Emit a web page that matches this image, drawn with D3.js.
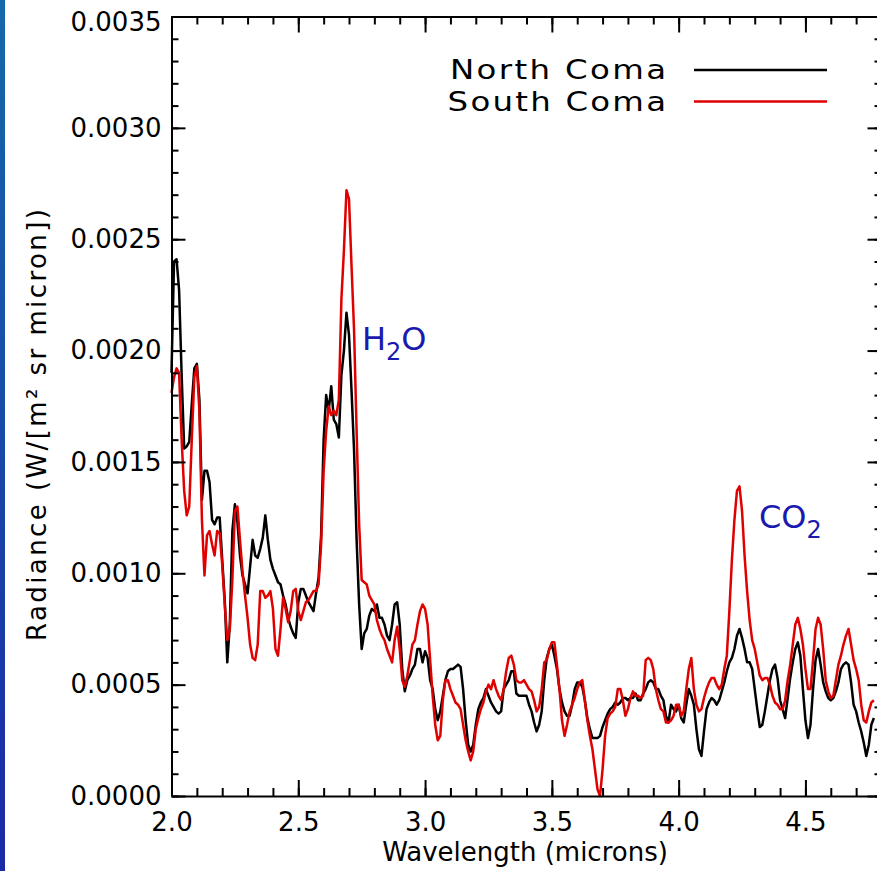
<!DOCTYPE html>
<html>
<head>
<meta charset="utf-8">
<script src="https://cdn.jsdelivr.net/npm/d3@7"></script>
<style>
  body { margin: 0; background: #fff; }
  svg text { font-family: 'DejaVu Sans', sans-serif; }
</style>
</head>
<body>
<div class="chartHolder"></div>
<script>
// wavelength grid (microns)
const wavelength = [
  2.00,2.01,2.02,2.03,2.04,2.05,2.06,2.07,2.08,2.09,
  2.10,2.11,2.12,2.13,2.14,2.15,2.16,2.17,2.18,2.19,
  2.20,2.21,2.22,2.23,2.24,2.25,2.26,2.27,2.28,2.29,
  2.30,2.31,2.32,2.33,2.34,2.35,2.36,2.37,2.38,2.39,
  2.40,2.41,2.42,2.43,2.44,2.45,2.46,2.47,2.48,2.49,
  2.50,2.51,2.52,2.53,2.54,2.55,2.56,2.57,2.58,2.59,
  2.60,2.61,2.62,2.63,2.64,2.65,2.66,2.67,2.68,2.69,
  2.70,2.71,2.72,2.73,2.74,2.75,2.76,2.77,2.78,2.79,
  2.80,2.81,2.82,2.83,2.84,2.85,2.86,2.87,2.88,2.89,
  2.90,2.91,2.92,2.93,2.94,2.95,2.96,2.97,2.98,2.99,
  3.00,3.01,3.02,3.03,3.04,3.05,3.06,3.07,3.08,3.09,
  3.10,3.11,3.12,3.13,3.14,3.15,3.16,3.17,3.18,3.19,
  3.20,3.21,3.22,3.23,3.24,3.25,3.26,3.27,3.28,3.29,
  3.30,3.31,3.32,3.33,3.34,3.35,3.36,3.37,3.38,3.39,
  3.40,3.41,3.42,3.43,3.44,3.45,3.46,3.47,3.48,3.49,
  3.50,3.51,3.52,3.53,3.54,3.55,3.56,3.57,3.58,3.59,
  3.60,3.61,3.62,3.63,3.64,3.65,3.66,3.67,3.68,3.69,
  3.70,3.71,3.72,3.73,3.74,3.75,3.76,3.77,3.78,3.79,
  3.80,3.81,3.82,3.83,3.84,3.85,3.86,3.87,3.88,3.89,
  3.90,3.91,3.92,3.93,3.94,3.95,3.96,3.97,3.98,3.99,
  4.00,4.01,4.02,4.03,4.04,4.05,4.06,4.07,4.08,4.09,
  4.10,4.11,4.12,4.13,4.14,4.15,4.16,4.17,4.18,4.19,
  4.20,4.21,4.22,4.23,4.24,4.25,4.26,4.27,4.28,4.29,
  4.30,4.31,4.32,4.33,4.34,4.35,4.36,4.37,4.38,4.39,
  4.40,4.41,4.42,4.43,4.44,4.45,4.46,4.47,4.48,4.49,
  4.50,4.51,4.52,4.53,4.54,4.55,4.56,4.57,4.58,4.59,
  4.60,4.61,4.62,4.63,4.64,4.65,4.66,4.67,4.68,4.69,
  4.70,4.71,4.72,4.73,4.74,4.75,4.76,4.77
]

// radiance in units of 1e-4 W/(m2 sr micron)
const northComa = [
  19.0,24.0,24.1,22.7,18.9,15.6,15.7,15.9,17.6,19.2,
  19.4,17.8,13.3,14.6,14.6,14.1,12.4,12.2,12.5,12.5,
  10.6,8.8,6.0,7.7,11.9,13.1,12.3,10.8,9.9,9.5,
  9.1,10.3,11.5,10.8,10.7,11.1,11.6,12.6,11.5,10.6,
  10.2,9.9,9.6,9.5,9.0,8.6,8.0,7.6,7.3,7.1,
  8.7,9.3,9.3,9.0,8.7,8.5,8.3,9.1,9.8,11.7,
  16.0,18.0,17.3,18.4,16.9,16.7,16.1,18.9,20.0,21.7,
  20.7,18.2,15.5,11.5,8.6,6.6,7.3,7.5,8.1,8.4,
  8.3,8.6,8.0,8.0,7.7,7.2,7.0,7.7,8.6,8.7,
  7.7,5.7,4.7,5.2,5.4,5.7,5.9,6.6,6.6,6.0,
  6.5,6.2,5.2,4.8,3.9,3.4,3.8,4.5,5.2,5.6,
  5.7,5.7,5.8,5.9,5.8,4.8,3.4,2.3,2.0,2.3,
  3.2,3.9,4.2,4.4,4.8,4.5,4.2,4.0,3.8,3.7,
  3.8,4.8,5.0,5.2,5.6,5.6,4.6,4.5,4.5,4.5,
  4.5,4.1,3.8,3.3,2.9,3.2,3.8,5.2,6.2,6.6,
  6.8,6.3,5.7,4.8,4.2,3.8,3.6,3.6,4.1,4.8,
  5.1,5.1,4.9,4.3,3.5,3.0,2.6,2.6,2.6,2.7,
  3.1,3.4,3.7,3.9,4.0,4.2,4.1,4.2,4.4,4.4,
  4.3,4.4,4.4,4.6,4.3,4.3,4.6,4.8,5.1,5.2,
  5.1,4.8,4.8,4.5,4.3,3.6,3.3,4.1,3.9,3.8,
  4.1,3.5,3.3,4.1,4.8,4.5,4.1,3.0,2.1,1.8,
  2.9,3.9,4.2,4.4,4.3,4.1,4.3,4.7,5.1,5.6,
  6.0,6.2,6.6,7.2,7.5,7.1,6.6,6.0,6.0,5.7,
  4.8,3.9,3.1,3.2,3.8,4.5,5.2,5.7,5.9,5.3,
  4.3,3.9,3.5,4.4,5.3,6.0,6.6,6.9,6.3,4.8,
  3.4,2.6,3.2,4.8,6.1,6.6,5.9,5.1,4.7,4.4,
  4.3,4.4,4.7,5.1,5.7,5.9,6.0,5.9,5.1,4.1,
  3.8,3.3,2.9,2.4,1.8,2.3,3.2,3.5
]

const southComa = [
  18.1,18.8,19.2,19.0,16.0,13.7,12.6,13.0,16.0,18.8,
  19.3,17.3,12.4,9.9,11.7,11.9,11.3,10.8,11.9,11.8,
  10.4,8.6,7.0,7.5,9.7,12.8,13.0,11.5,10.1,9.0,
  8.0,6.8,6.2,6.1,6.8,9.2,9.2,8.9,9.0,9.2,
  8.4,6.6,6.3,7.5,8.9,8.4,7.8,8.3,9.2,9.3,
  8.3,7.9,8.3,8.7,8.8,9.0,9.2,9.2,9.5,11.3,
  14.6,16.4,17.5,17.1,17.3,17.1,17.8,22.3,24.5,27.2,
  26.8,23.8,20.9,16.4,12.2,9.7,9.6,9.5,9.0,8.8,
  8.6,7.9,7.5,7.2,7.0,6.6,6.3,6.0,7.0,7.6,
  6.6,5.2,4.9,5.4,6.1,6.8,7.0,7.7,8.3,8.6,
  8.4,7.7,6.1,4.5,3.2,2.5,2.7,4.3,5.2,5.2,
  4.8,4.5,4.2,4.1,3.9,3.2,2.5,2.0,1.6,2.0,
  3.0,3.5,3.9,4.2,4.7,5.0,4.8,5.2,4.8,4.5,
  4.3,4.8,5.6,6.2,6.3,5.9,5.2,5.1,5.1,5.2,
  5.0,4.8,4.7,4.3,3.8,4.0,4.8,6.0,6.1,6.6,
  6.9,6.9,5.9,4.8,3.4,2.7,3.2,3.8,4.1,4.4,
  4.8,5.1,5.2,4.3,3.4,2.7,2.1,1.2,0.3,0.0,
  1.2,2.7,3.5,3.7,3.8,4.0,4.8,4.8,4.3,3.6,
  3.9,4.4,4.7,4.5,4.5,4.4,4.5,6.1,6.2,6.1,
  5.7,4.8,4.3,3.9,3.8,3.3,3.3,3.4,3.6,4.1,
  4.1,3.6,3.8,4.8,5.7,6.2,4.8,4.1,3.8,3.9,
  4.4,4.8,5.1,5.3,5.3,5.0,4.8,5.0,5.7,6.3,
  8.3,10.6,12.4,13.7,13.9,12.8,10.8,9.2,7.9,7.0,
  6.6,6.0,5.4,5.2,5.3,5.3,5.0,4.5,4.2,4.1,
  3.9,3.9,4.3,5.2,5.9,6.8,7.7,8.0,7.5,6.8,
  5.7,4.8,4.8,6.1,7.5,8.0,7.7,6.6,5.2,4.7,
  4.4,4.5,5.2,5.9,6.3,6.8,7.2,7.5,6.8,6.1,
  5.7,5.2,4.1,3.4,3.3,3.8,4.2,4.3
]

const xMajorTicks = [2.0, 2.5, 3.0, 3.5, 4.0, 4.5]
const yMajorTicks = [0, 5, 10, 15, 20, 25, 30, 35]
const seriesNames = ['North Coma', 'South Coma']
const seriesColors = ['#000000', '#e00000']

const width = 877
const height = 871
const plot = { left: 171.5, right: 881.5, top: 16.5, bottom: 796 }
const font = "'DejaVu Sans', sans-serif"

var xScale = d3.scaleLinear().domain([2.0, 4.8]).range([plot.left, plot.right])
var yScale = d3.scaleLinear().domain([0, 35]).range([plot.bottom, plot.top])

var svg = d3.select('.chartHolder').append('svg')
  .attr('width', width)
  .attr('height', height)

svg.append('rect').attr('width', width).attr('height', height).attr('fill', '#fff')

// blue edge on the left
var grad = svg.append('defs').append('linearGradient')
  .attr('id', 'edge').attr('x1', 0).attr('y1', 0).attr('x2', 0).attr('y2', 1)
grad.append('stop').attr('offset', '0%').attr('stop-color', '#1569aa')
grad.append('stop').attr('offset', '100%').attr('stop-color', '#1b29a6')
svg.append('rect').attr('x', 0).attr('y', 0).attr('width', 5).attr('height', height)
  .attr('fill', 'url(#edge)')

// series
var line = d3.line()
  .x((d, i) => xScale(wavelength[i]))
  .y(d => yScale(d))

;[northComa, southComa].forEach(function(values, k) {
  svg.append('path')
    .datum(values)
    .attr('d', line)
    .attr('fill', 'none')
    .attr('stroke', seriesColors[k])
    .attr('stroke-width', 2.5)
    .attr('stroke-linejoin', 'round')
})

// axes, ticks pointing inward on all four sides
function addAxis(axis, tx, ty, keepDomain) {
  var g = svg.append('g')
    .attr('transform', `translate(${tx},${ty})`)
    .call(axis)
    .attr('font-size', 26)
    .attr('font-family', font)
  g.selectAll('.tick line').attr('stroke-width', 2)
  g.selectAll('.tick text').attr('fill', '#000')
  if (keepDomain) g.select('.domain').attr('stroke-width', 2)
  else g.select('.domain').remove()
  return g
}

var xMinor = xScale.ticks(28)
var yMinor = yScale.ticks(35)

addAxis(d3.axisBottom(xScale).tickValues(xMinor).tickSize(-8).tickFormat(''), 0, plot.bottom, false)
addAxis(d3.axisBottom(xScale).tickValues(xMajorTicks).tickSize(-16).tickSizeOuter(0)
  .tickPadding(17).tickFormat(d3.format('.1f')), 0, plot.bottom, true)
addAxis(d3.axisTop(xScale).tickValues(xMinor).tickSize(-8).tickFormat(''), 0, plot.top, false)
addAxis(d3.axisTop(xScale).tickValues(xMajorTicks).tickSize(-16).tickSizeOuter(0)
  .tickFormat(''), 0, plot.top, true)

addAxis(d3.axisLeft(yScale).tickValues(yMinor).tickSize(-7).tickFormat(''), plot.left, 0, false)
var yAxisGroup = addAxis(d3.axisLeft(yScale).tickValues(yMajorTicks).tickSize(-14).tickSizeOuter(0)
  .tickPadding(10).tickFormat(d => (d * 1e-4).toFixed(4)), plot.left, 0, true)
// top label sits a little below its tick, as in the original
yAxisGroup.selectAll('.tick text').filter(d => d === 35).attr('dy', '0.55em')
addAxis(d3.axisRight(yScale).tickValues(yMinor).tickSize(-7).tickFormat(''), plot.right, 0, false)
addAxis(d3.axisRight(yScale).tickValues(yMajorTicks).tickSize(-14).tickSizeOuter(0)
  .tickFormat(''), plot.right, 0, true)

// axis titles
svg.append('text')
  .attr('x', 525)
  .attr('y', 861)
  .attr('text-anchor', 'middle')
  .attr('font-size', 26)
  .attr('font-family', font)
  .text('Wavelength (microns)')

svg.append('text')
  .attr('transform', 'translate(46,425) rotate(-90)')
  .attr('text-anchor', 'middle')
  .attr('font-size', 26)
  .attr('font-family', font)
  .attr('textLength', 432)
  .text('Radiance (W/[m² sr micron])')

// legend
var legendY = [79, 111]
var legendLineY = [70, 101.5]
var legendWidths = [180, 182]
seriesNames.forEach(function(name, k) {
  svg.append('text')
    .attr('transform', `translate(666,${legendY[k]}) scale(1.2,1)`)
    .attr('text-anchor', 'end')
    .attr('font-size', 27)
    .attr('font-family', font)
    .attr('textLength', legendWidths[k])
    .text(name)
  svg.append('line')
    .attr('x1', 694).attr('x2', 827)
    .attr('y1', legendLineY[k]).attr('y2', legendLineY[k])
    .attr('stroke', seriesColors[k])
    .attr('stroke-width', 2.5)
})

// molecule labels
function molecule(x, y, base, sub, tail) {
  var t = svg.append('text')
    .attr('x', x).attr('y', y)
    .attr('font-size', 32)
    .attr('font-family', font)
    .attr('fill', '#1a1ab0')
  t.append('tspan').text(base)
  t.append('tspan').attr('font-size', 24).attr('dy', 10).text(sub)
  if (tail) t.append('tspan').attr('dy', -10).text(tail)
}
molecule(362, 350, 'H', '2', 'O')
molecule(759, 528, 'CO', '2', '')
</script>
</body>
</html>
